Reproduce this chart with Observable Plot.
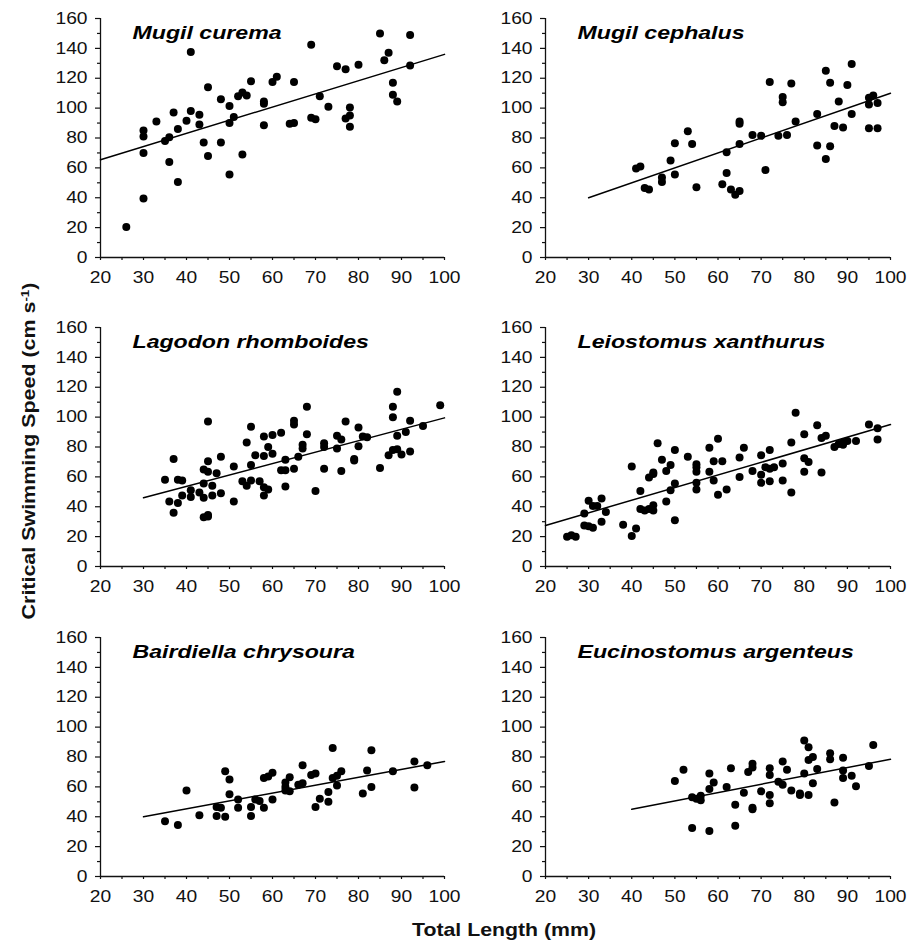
<!DOCTYPE html>
<html>
<head>
<meta charset="utf-8">
<script src="https://cdn.jsdelivr.net/npm/d3@7"></script>
<script src="https://cdn.jsdelivr.net/npm/@observablehq/plot@0.6"></script>
<style>
  html, body { margin: 0; padding: 0; background: #fff; }
  #wrap { position: relative; width: 916px; height: 943px; overflow: hidden;
          font-family: "Liberation Sans", Arial, sans-serif; color: #111; }
  .panel { position: absolute; }
  .ytitle { position: absolute; left: 29px; top: 451px; white-space: nowrap;
            font-weight: bold; font-size: 18px; line-height: 1;
            transform: translate(-50%, -50%) rotate(-90deg) scaleX(1.19); }
  .ytitle sup { font-size: 0.62em; vertical-align: 0.55em; }
  .xtitle { position: absolute; left: 504px; top: 919px; white-space: nowrap;
            font-weight: bold; font-size: 18.5px; line-height: normal;
            transform: translateX(-50%) scaleX(1.15); transform-origin: center; }
</style>
</head>
<body>
<div id="wrap">
  <div class="ytitle">Critical Swimming Speed (cm s<sup>-1</sup>)</div>
  <div class="xtitle">Total Length (mm)</div>
</div>
<script>
// ---- Data ----
const species = ["Mugil curema", "Mugil cephalus", "Lagodon rhomboides",
                 "Leiostomus xanthurus", "Bairdiella chrysoura", "Eucinostomus argenteus"];

const curemaLength = [26,30,30,30,30,33,35,36,36,37,38,38,40,41,41,43,43,44,45,45,48,48,50,50,50,51,52,53,53,54,55,58,58,58,60,61,64,65,65,69,69,70,71,73,75,77,77,78,78,78,80,85,86,87,88,88,89,92,92];
const curemaSpeed  = [20.5,39.5,70,81,85,91,78,80.5,64,97,86,50.5,91.5,98,137.5,95.5,89,77,68,114,106,77,101.5,90,55.5,94,108,69,110.5,108.5,118,104.5,103,88.5,117.5,121,89.5,90,117.5,142.5,93.5,92.5,108,101,128,126,93,95,100.5,87.5,129,150,132,137,117,109,104.5,149,128.5];
const curemaFitX = [20,100], curemaFitY = [65.5,136];

const cephalusLength = [41,42,43,44,47,47,49,50,50,53,54,55,61,62,62,63,64,65,65,65,65,68,70,71,72,74,75,75,76,77,78,83,83,85,85,86,86,87,88,89,90,91,91,95,95,95,96,97,97];
const cephalusSpeed  = [59.5,61,46.5,45.5,53.5,50.5,65,76.5,55.5,84.5,76,47,49,70.5,56.5,45.5,42,44.5,91,89.5,76,82,81.5,58.5,117.5,81.5,107.5,104,82,116.5,91,96,75,125,66,117,74.5,88,104.5,87,115.5,129.5,96,107,102.5,86.5,108.5,103.5,86.5];
const cephalusFitX = [30,100], cephalusFitY = [40,110];

const lagodonLength = [35,36,37,37,38,38,39,39,41,41,43,44,44,44,44,45,45,45,45,45,46,46,47,48,48,51,51,53,54,54,55,55,55,56,57,58,58,58,58,59,59,60,60,62,62,63,63,63,65,65,65,66,67,67,68,68,70,72,72,72,75,75,76,76,77,79,79,80,80,81,82,85,87,88,88,88,89,89,89,90,91,92,92,95,99];
const lagodonSpeed  = [58,43.5,72,36,58,42.5,57.5,47.5,51,46.5,49.5,65,55.5,46,33,33.5,34.5,63.5,70.5,97,54,47.5,62.5,73.5,49,67,43.5,57,83,54,93.5,68,57.5,74.5,57,87,74,53,47.5,80,51.5,88,75.5,89.5,64.5,71.5,64.5,53.5,97.5,95,65.5,73.5,81.5,79,107,88.5,50.5,82.5,80,65.5,87.5,79,85,64,97,72,71,93,80.5,87,86.5,66,74.5,107,100,78,117,87.5,78.5,75,90,97.5,77,94,108];
const lagodonFitX = [30,100], lagodonFitY = [46,99.5];

const leiostomusLength = [25,26,27,29,29,30,30,31,31,32,33,33,34,38,40,40,41,42,42,43,44,44,45,45,45,45,46,47,48,48,49,49,50,50,50,53,55,55,55,55,55,58,58,59,59,60,60,61,62,65,65,66,68,70,70,70,71,72,72,72,73,75,75,77,77,78,80,80,80,81,83,84,84,85,87,88,89,89,90,92,95,97,97];
const leiostomusSpeed  = [20,21,20,35.5,27.5,44,27,40.5,26,40.5,45.5,30,36.5,28,67,20.5,25.5,50.5,38.5,37.5,38.5,59.5,62,63,41,37.5,82.5,71.5,64,43.5,68,51,78,55.5,31,73.5,68.5,66.5,63.5,56,51.5,79.5,63.5,70.5,57.5,85.5,48,70.5,51.5,73,60,79.5,64,74.5,61.5,56,66.5,78,65.5,57,66.5,69,57.5,83,49.5,103,88.5,72.5,63.5,70,94.5,86,63,87.5,80,82,83,81.5,84,84,95,92.5,85];
const leiostomusFitX = [20,100], leiostomusFitY = [27.5,95];

const bairdiellaLength = [35,38,40,43,47,47,48,49,49,50,50,52,52,55,55,56,57,58,58,59,60,60,63,63,63,64,64,66,67,67,69,70,70,71,73,73,74,74,75,75,76,81,82,83,83,88,93,93,96];
const bairdiellaSpeed  = [37,34.5,57.5,41,46.5,40.5,46,70.5,40,65,55,51.5,46,46.5,40.5,51.5,50.5,46,66,67,69.5,51.5,63,60,57.5,66.5,57,61.5,74.5,62.5,68,69,46.5,52,56.5,50,86,66,67.5,61,70.5,55.5,71,84.5,60,70.5,77,59.5,74.5];
const bairdiellaFitX = [30,100], bairdiellaFitY = [40,77];

const eucinostomusLength = [50,52,54,54,55,56,56,58,58,58,59,62,63,64,64,66,67,68,68,68,68,70,72,72,72,72,74,75,75,76,77,79,79,80,80,81,81,81,82,82,83,86,86,87,89,89,89,91,92,95,96];
const eucinostomusSpeed  = [64,71.5,53,32.5,52,54,51,69,58.5,30.5,63,60,72.5,48,34,56,70,75.5,73,46,45,57,72.5,68,54.5,49,63.5,77,61.5,71.5,57.5,55.5,54.5,91,69,86.5,78,54.5,80,62.5,72,82.5,78.5,49.5,79.5,71,66,67.5,60.5,74,88];
const eucinostomusFitX = [40,100], eucinostomusFitY = [45,78.5];

const xTicks = [20,30,40,50,60,70,80,90,100];
const xMinorTicks = [25,35,45,55,65,75,85,95];
const yTicks = [0,20,40,60,80,100,120,140,160];
const yMinorTicks = [10,30,50,70,90,110,130,150];

// ---- Panels ----
const panels = [
  {name: species[0], len: curemaLength, spd: curemaSpeed, fx: curemaFitX, fy: curemaFitY},
  {name: species[1], len: cephalusLength, spd: cephalusSpeed, fx: cephalusFitX, fy: cephalusFitY},
  {name: species[2], len: lagodonLength, spd: lagodonSpeed, fx: lagodonFitX, fy: lagodonFitY},
  {name: species[3], len: leiostomusLength, spd: leiostomusSpeed, fx: leiostomusFitX, fy: leiostomusFitY},
  {name: species[4], len: bairdiellaLength, spd: bairdiellaSpeed, fx: bairdiellaFitX, fy: bairdiellaFitY},
  {name: species[5], len: eucinostomusLength, spd: eucinostomusSpeed, fx: eucinostomusFitX, fy: eucinostomusFitY}
];

const colLeft = [40, 485];           // svg left per column
const colMarginRight = [26, 25];
const rowTop = [5.5, 315, 625];      // svg top per row

function makePanel(p, col) {
  const pts = p.len.map((x, i) => ({x, y: p.spd[i]}));
  const fit = p.fx.map((x, i) => ({x, y: p.fy[i]}));
  return Plot.plot({
    width: 430, height: 291,
    marginLeft: 60, marginRight: colMarginRight[col], marginTop: 12, marginBottom: 40,
    x: {domain: [20, 100]},
    y: {domain: [0, 160]},
    style: {fontFamily: "'Liberation Sans', Arial, sans-serif", fontSize: "16px", color: "#111", background: "transparent"},
    marks: [
      Plot.axisY({ticks: yTicks, tickSize: 5, tickPadding: 8, label: null, strokeWidth: 1.2}),
      Plot.axisY({ticks: yMinorTicks, tickSize: 3, tickFormat: () => "", label: null, strokeWidth: 1.2}),
      Plot.axisX({ticks: xTicks, tickSize: 3, tickPadding: 11, label: null, strokeWidth: 1.2}),
      Plot.axisX({ticks: xMinorTicks, tickSize: 3, tickFormat: () => "", label: null, strokeWidth: 1.2}),
      Plot.ruleX([20], {stroke: "#111", strokeWidth: 1.3}),
      Plot.ruleY([0], {stroke: "#111", strokeWidth: 1.3}),
      Plot.line(fit, {x: "x", y: "y", stroke: "#000", strokeWidth: 1.5}),
      Plot.dot(pts, {x: "x", y: "y", r: 4, fill: "#000", stroke: "none"}),
      Plot.text([p.name], {text: d => d, frameAnchor: "top-left", textAnchor: "start", lineAnchor: "bottom",
        dx: 32, dy: 20, fontSize: 18.5, fontWeight: "bold", fontStyle: "italic", fill: "#000"})
    ]
  });
}

function widen(nodes, k) {
  nodes.forEach(t => {
    const L = t.getComputedTextLength();
    if (L > 0) {
      t.setAttribute("textLength", (L * k).toFixed(2));
      t.setAttribute("lengthAdjust", "spacingAndGlyphs");
    }
  });
}

const wrap = document.getElementById("wrap");
panels.forEach((p, i) => {
  const col = i % 2, row = Math.floor(i / 2);
  const svg = makePanel(p, col);
  svg.classList.add("panel");
  svg.style.left = colLeft[col] + "px";
  svg.style.top = rowTop[row] + "px";
  wrap.appendChild(svg);
  const titleNodes = Array.from(svg.querySelectorAll('g[aria-label="text"] text'));
  const tickNodes = Array.from(svg.querySelectorAll("text")).filter(t => !titleNodes.includes(t));
  widen(tickNodes, 1.2);
  widen(titleNodes, 1.25);
});
</script>
</body>
</html>
